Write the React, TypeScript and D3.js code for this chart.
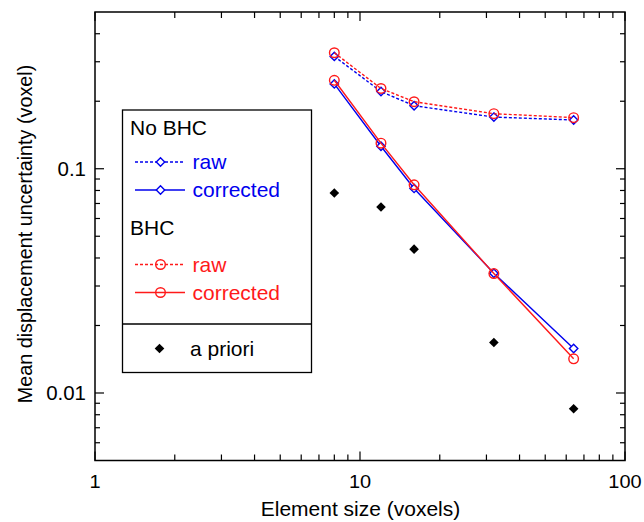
import React from "react";
import * as d3 from "d3";

const elementSizes = [8, 12, 16, 32, 64];
const noBhcRaw = [0.317, 0.221, 0.191, 0.17, 0.165];
const noBhcCorrected = [0.239, 0.126, 0.0817, 0.0342, 0.0158];
const bhcRaw = [0.329, 0.228, 0.199, 0.176, 0.169];
const bhcCorrected = [0.248, 0.13, 0.0848, 0.0341, 0.0142];
const aPriori = [0.0779, 0.0675, 0.0438, 0.0168, 0.0085];

const xTickLabels = [1, 10, 100];
const yTickLabels = [0.01, 0.1];

const W = 644;
const H = 522;
const L = 95, R = 625, T = 12, B = 460.5;
const FONT = "'Liberation Sans', Arial, Helvetica, sans-serif";
const BLUE = "#0000ee";
const RED = "#ff1a1a";
const SX = 1.05;

function T2(props: { x: number; y: number; anchor?: string; size?: number; fill?: string; children: any }) {
  const { x, y, anchor, size, fill, children } = props;
  return (
    <g transform={`translate(${x},${y}) scale(${SX},1)`}>
      <text x={0} y={0} textAnchor={anchor || "start"} fontSize={size || 20} fill={fill || "black"}>
        {children}
      </text>
    </g>
  );
}

export default function App() {
  const x = d3.scaleLog().domain([1, 100]).range([L, R]);
  const y = d3.scaleLog().domain([0.005, 0.5]).range([B, T]);

  const xMinor: number[] = [];
  for (const dec of [1, 10]) for (let k = 2; k <= 9; k++) xMinor.push(dec * k);
  const yMinor: number[] = [];
  for (const dec of [0.001, 0.01, 0.1]) for (let k = 2; k <= 9; k++) {
    const v = dec * k;
    if (v > 0.005 && v < 0.5) yMinor.push(v);
  }

  const line = d3.line<number>().x((_, i) => x(elementSizes[i])).y((d) => y(d));

  const diamond = (cx: number, cy: number, r: number) =>
    `M${cx},${cy - r}L${cx + r},${cy}L${cx},${cy + r}L${cx - r},${cy}Z`;

  const series = [
    { vals: noBhcRaw, color: BLUE, dash: "3,2", marker: "diamond" },
    { vals: noBhcCorrected, color: BLUE, dash: null, marker: "diamond" },
    { vals: bhcRaw, color: RED, dash: "3,2", marker: "circle" },
    { vals: bhcCorrected, color: RED, dash: null, marker: "circle" },
  ];

  const legendItems = [
    { label: "raw", y: 162, color: BLUE, dash: "3,2", marker: "diamond" },
    { label: "corrected", y: 190, color: BLUE, dash: null, marker: "diamond" },
    { label: "raw", y: 264.5, color: RED, dash: "3,2", marker: "circle" },
    { label: "corrected", y: 292.5, color: RED, dash: null, marker: "circle" },
  ];

  const drawMarker = (m: string, cx: number, cy: number, color: string, key: string) =>
    m === "diamond" ? (
      <path key={key} d={diamond(cx, cy, 4.2)} fill="white" stroke={color} strokeWidth={1.4} />
    ) : (
      <circle key={key} cx={cx} cy={cy} r={4.8} fill="none" stroke={color} strokeWidth={1.4} />
    );

  return (
    <svg width={W} height={H} style={{ position: "absolute", left: 0, top: 0 }} fontFamily={FONT}>
      <rect x={0} y={0} width={W} height={H} fill="white" />
      {/* frame */}
      <rect x={L} y={T} width={R - L} height={B - T} fill="none" stroke="black" strokeWidth={1.5} />
      {/* x ticks */}
      {xMinor.map((v) => (
        <g key={"xm" + v}>
          <line x1={x(v)} x2={x(v)} y1={B} y2={B - 6} stroke="black" strokeWidth={1.2} />
          <line x1={x(v)} x2={x(v)} y1={T} y2={T + 6} stroke="black" strokeWidth={1.2} />
        </g>
      ))}
      {xTickLabels.map((v) => (
        <g key={"xt" + v}>
          <line x1={x(v)} x2={x(v)} y1={B} y2={B - 9} stroke="black" strokeWidth={1.2} />
          <line x1={x(v)} x2={x(v)} y1={T} y2={T + 9} stroke="black" strokeWidth={1.2} />
          <T2 x={x(v)} y={488} anchor="middle" size={19}>{v}</T2>
        </g>
      ))}
      {/* y ticks */}
      {yMinor.map((v) => (
        <g key={"ym" + v}>
          <line x1={L} x2={L + 5} y1={y(v)} y2={y(v)} stroke="black" strokeWidth={1.2} />
          <line x1={R} x2={R - 5} y1={y(v)} y2={y(v)} stroke="black" strokeWidth={1.2} />
        </g>
      ))}
      {yTickLabels.map((v) => (
        <g key={"yt" + v}>
          <line x1={L} x2={L + 9} y1={y(v)} y2={y(v)} stroke="black" strokeWidth={1.2} />
          <line x1={R} x2={R - 9} y1={y(v)} y2={y(v)} stroke="black" strokeWidth={1.2} />
          <T2 x={86} y={y(v) + 7} anchor="end" size={19.5}>{v}</T2>
        </g>
      ))}
      {/* axis labels */}
      <T2 x={360.5} y={516} anchor="middle" size={20}>Element size (voxels)</T2>
      <text transform="translate(32,234) rotate(-90)" textAnchor="middle" fontSize={19.8}>
        Mean displacement uncertainty (voxel)
      </text>
      {/* series */}
      {series.map((s, si) => (
        <g key={"s" + si}>
          <path d={line(s.vals) || ""} fill="none" stroke={s.color} strokeWidth={1.4}
            strokeDasharray={s.dash || undefined} />
          {s.vals.map((v, i) => drawMarker(s.marker, x(elementSizes[i]), y(v), s.color, "m" + si + "-" + i))}
        </g>
      ))}
      {aPriori.map((v, i) => (
        <path key={"ap" + i} d={diamond(x(elementSizes[i]), y(v), 4.8)} fill="black" />
      ))}
      {/* legend */}
      <rect x={122.5} y={110} width={189} height={262.5} fill="white" stroke="black" strokeWidth={1.3} />
      <line x1={122.5} x2={311.5} y1={324} y2={324} stroke="black" strokeWidth={1.3} />
      <T2 x={130} y={135}>No BHC</T2>
      <T2 x={130} y={235}>BHC</T2>
      {legendItems.map((it, i) => (
        <g key={"lg" + i}>
          <line x1={135} x2={185} y1={it.y} y2={it.y} stroke={it.color} strokeWidth={1.4}
            strokeDasharray={it.dash || undefined} />
          {drawMarker(it.marker, 160.5, it.y, it.color, "lm" + i)}
          <T2 x={192.5} y={it.y + 7} fill={it.color}>{it.label}</T2>
        </g>
      ))}
      <path d={diamond(159.5, 348.5, 4.8)} fill="black" />
      <T2 x={190} y={355.5}>a priori</T2>
    </svg>
  );
}
